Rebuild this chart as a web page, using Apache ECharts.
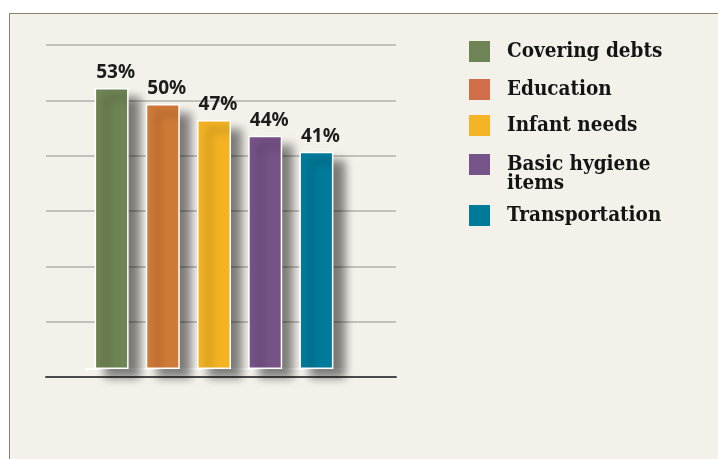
<!DOCTYPE html>
<html>
<head>
<meta charset="utf-8">
<script src="https://cdn.jsdelivr.net/npm/echarts@6/dist/echarts.min.js"></script>
<style>
  html, body { margin: 0; padding: 0; background: #fff; }
  #panel {
    position: absolute; left: 9px; top: 13px; width: 709px; height: 446px;
    background: #f4f1eb;
    border-top: 1.5px solid #8d8272;
    border-left: 1.5px solid #8d8272;
    box-sizing: border-box;
  }
  #main { position: absolute; left: 0; top: 0; width: 718px; height: 459px; }
</style>
</head>
<body>
<div id="panel"></div>
<div id="main"></div>
<script>
// 各项支出
var categories = ['Covering debts', 'Education', 'Infant needs', 'Basic hygiene items', 'Transportation'];
var legendNames = ['Covering debts', 'Education', 'Infant needs', 'Basic hygiene\nitems', 'Transportation'];
var percents = [53, 50, 47, 44, 41];
var colors = ['#6f8454', '#d07a37', '#f3b323', '#765287', '#007b9b'];
var legendColors = ['#6f8455', '#cf6e48', '#f4b424', '#765389', '#007a99'];
// 背景网格线（装饰用）
var gridSteps = [0, 1, 2, 3, 4, 5, 6];

var myChart = echarts.init(document.getElementById('main'));

var series = [];
for (var i = 0; i < categories.length; i++) {
	var d = [];
	for (var j = 0; j < categories.length; j++) {
		d.push(i == j ? percents[j] : '-');
	}
	series.push({
		name: legendNames[i],
		type: 'bar',
		xAxisIndex: 1,
		yAxisIndex: 1,
		stack: 'all',
		barWidth: 34,
		data: d,
		itemStyle: {
			color: colors[i],
			borderColor: '#ffffff',
			borderWidth: 1.5,
			shadowBlur: 9,
			shadowOffsetX: 11,
			shadowOffsetY: 9,
			shadowColor: 'rgba(0,0,0,0.5)'
		},
		label: {
			show: true,
			position: 'top',
			distance: 6,
			offset: [4, 0],
			formatter: '{c}%',
			fontFamily: 'Noto Sans',
			fontWeight: 'bold',
			fontSize: 19,
			color: '#1c1c1c'
		}
	});
}

// 图例：每一项单独放置
var legendTops = [41, 79, 115, 135, 205];
var legends = [];
for (var k = 0; k < legendNames.length; k++) {
	legends.push({
		data: [legendNames[k]],
		left: 469,
		top: legendTops[k],
		padding: 0,
		itemWidth: 21,
		itemHeight: 21,
		icon: 'rect',
		selectedMode: false,
		// 两行的那一项：前面加一个空行，让第一行与色块对齐
		formatter: k == 3 ? function (name) { return '\n' + name; } : '{name}',
		itemStyle: { color: legendColors[k], borderWidth: 0, shadowBlur: 0, shadowOffsetX: 0, shadowOffsetY: 0 },
		textStyle: {
			fontFamily: "'DejaVu Serif Condensed', 'DejaVu Serif'",
			fontWeight: 'bold',
			fontSize: 20.5,
			lineHeight: 19,
			color: '#141414',
			padding: [0, 0, 0, 12]
		}
	});
}

var option = {
	animation: false,
	legend: legends,
	grid: [
		{ left: 46, right: 322, top: 45, bottom: 82 },
		{ left: 86, right: 376, top: 51, bottom: 90 }
	],
	xAxis: [
		{
			gridIndex: 0,
			type: 'category',
			data: [''],
			axisLine: { lineStyle: { color: '#4a4a4a', width: 2 } },
			axisTick: { show: false },
			axisLabel: { show: false }
		},
		{
			gridIndex: 1,
			type: 'category',
			data: categories,
			axisLine: { lineStyle: { color: '#ffffff', width: 2 } },
			axisTick: { show: false },
			axisLabel: { show: false }
		}
	],
	yAxis: [
		{
			gridIndex: 0,
			type: 'value',
			min: gridSteps[0],
			max: gridSteps[gridSteps.length - 1],
			interval: 1,
			axisLabel: { show: false },
			axisLine: { show: false },
			axisTick: { show: false },
			splitLine: { lineStyle: { color: '#b3b1ab', width: 1.5 } }
		},
		{
			gridIndex: 1,
			type: 'value',
			min: 0,
			max: 60,
			show: false,
			splitLine: { show: false }
		}
	],
	series: series
};
myChart.setOption(option);
</script>
</body>
</html>
